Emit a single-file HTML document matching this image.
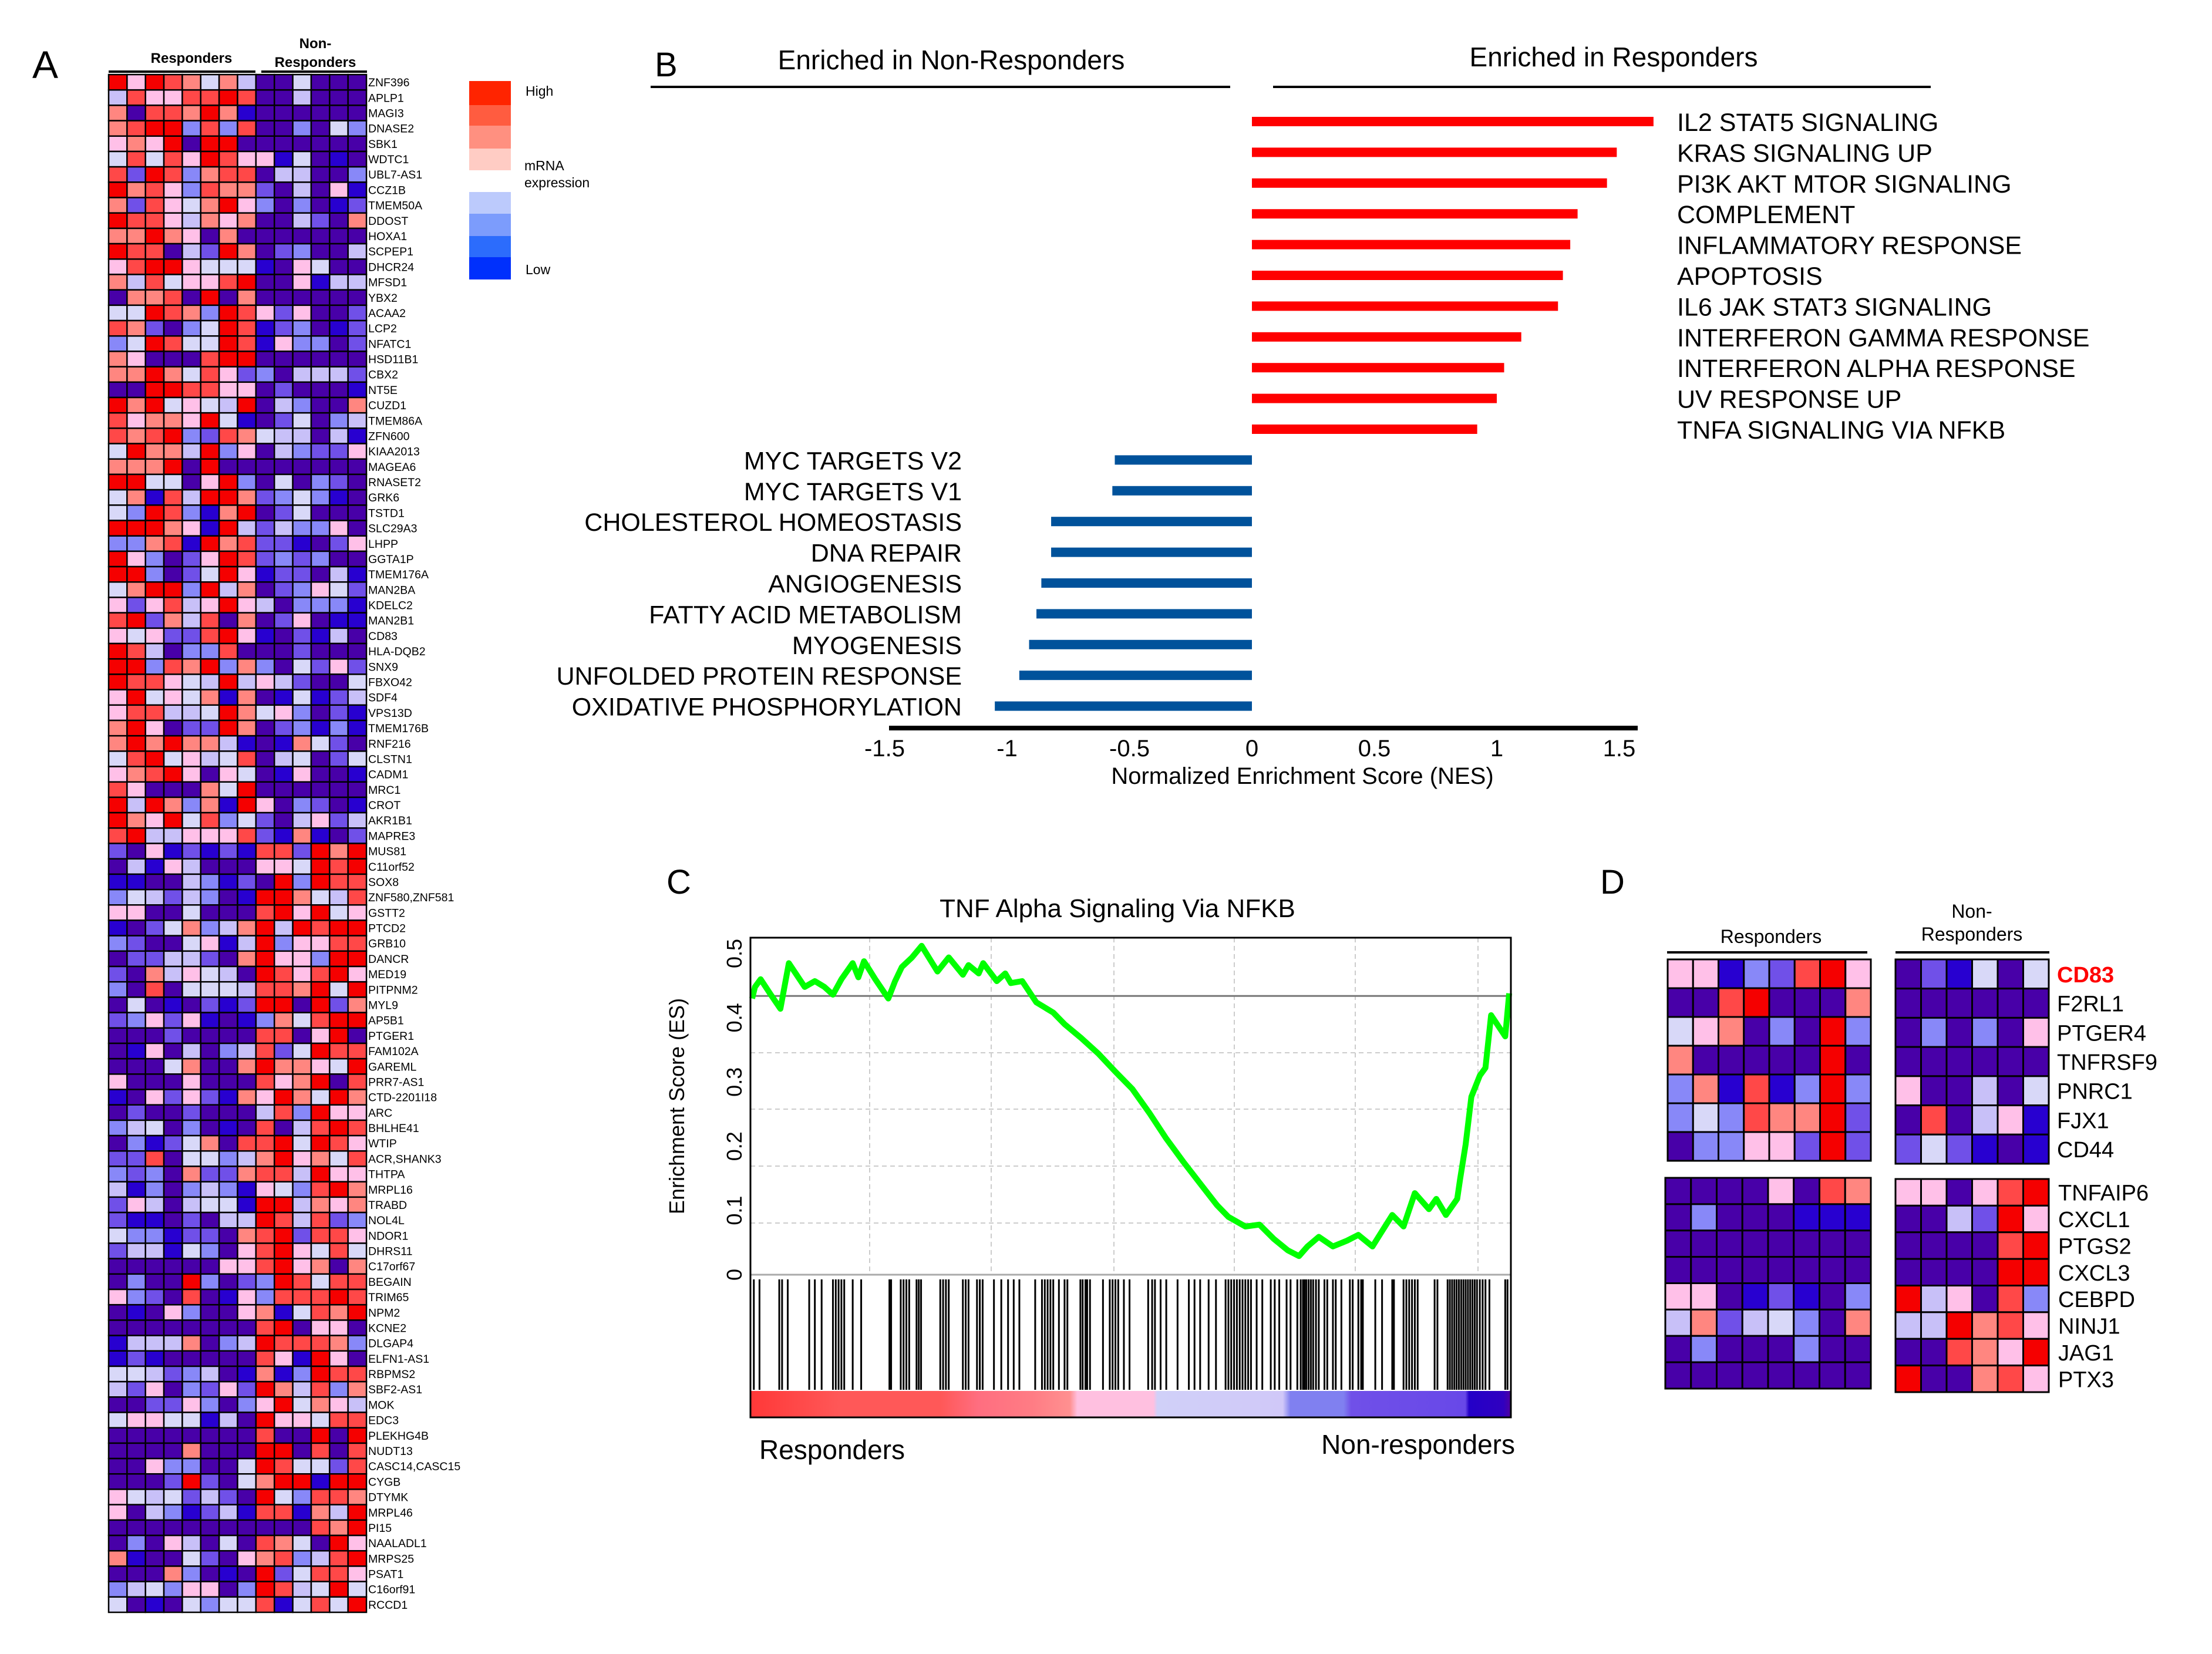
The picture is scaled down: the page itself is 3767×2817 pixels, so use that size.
<!DOCTYPE html>
<html><head><meta charset="utf-8">
<style>
html,body{margin:0;padding:0;background:#fff;}
svg{display:block;font-family:"Liberation Sans",Arial,sans-serif;}
</style></head>
<body>
<svg id="fig" width="3767" height="2817" viewBox="0 0 3767 2817" xmlns="http://www.w3.org/2000/svg">
<rect width="3767" height="2817" fill="#fff"/>
<g>
<text x="55" y="133" font-size="66">A</text>
<text x="326" y="107" font-size="24" font-weight="bold" text-anchor="middle">Responders</text>
<line x1="185" y1="122" x2="435" y2="122" stroke="#000" stroke-width="4"/>
<text x="537" y="82" font-size="24" font-weight="bold" text-anchor="middle">Non-</text>
<text x="537" y="114" font-size="24" font-weight="bold" text-anchor="middle">Responders</text>
<line x1="445" y1="122" x2="625" y2="122" stroke="#000" stroke-width="4"/>
<g>
<rect x="799" y="138" width="71" height="41" fill="#FF2400"/>
<rect x="799" y="179" width="71" height="35" fill="#FF5C40"/>
<rect x="799" y="214" width="71" height="39" fill="#FF9080"/>
<rect x="799" y="253" width="71" height="37" fill="#FFCCC4"/>
<rect x="799" y="327" width="71" height="37" fill="#BCCAFC"/>
<rect x="799" y="364" width="71" height="38" fill="#7C9CFC"/>
<rect x="799" y="402" width="71" height="36" fill="#2C6CFC"/>
<rect x="799" y="438" width="71" height="38" fill="#0030FC"/>
<text x="895" y="163" font-size="23">High</text>
<text x="893" y="290" font-size="23">mRNA</text>
<text x="893" y="319" font-size="23">expression</text>
<text x="895" y="467" font-size="23">Low</text>
</g>
<g id="heatA"></g>
</g>
<g>
<text x="1115" y="130" font-size="58">B</text>
<text x="1620" y="118" font-size="46" text-anchor="middle">Enriched in Non-Responders</text>
<line x1="1108" y1="148" x2="2095" y2="148" stroke="#000" stroke-width="4"/>
<text x="2748" y="113" font-size="46" text-anchor="middle">Enriched in Responders</text>
<line x1="2168" y1="148" x2="3288" y2="148" stroke="#000" stroke-width="4"/>
<g id="nesChart"></g>
</g>
<g>
<text x="1135" y="1522" font-size="58">C</text>
<text x="1903" y="1562" font-size="44" text-anchor="middle">TNF Alpha Signaling Via NFKB</text>
<g id="gsea"></g>
<text x="1293" y="2485" font-size="46">Responders</text>
<text x="2580" y="2476" font-size="46" text-anchor="end">Non-responders</text>
</g>
<g>
<text x="2725" y="1522" font-size="58">D</text>
<text x="3016" y="1606" font-size="32" text-anchor="middle">Responders</text>
<line x1="2839" y1="1622" x2="3180" y2="1622" stroke="#000" stroke-width="4"/>
<text x="3358" y="1563" font-size="32" text-anchor="middle">Non-</text>
<text x="3358" y="1602" font-size="32" text-anchor="middle">Responders</text>
<line x1="3228" y1="1622" x2="3490" y2="1622" stroke="#000" stroke-width="4"/>
<g id="heatD"></g>
</g>
</svg>
<script>
const heatGenes = ["ZNF396","APLP1","MAGI3","DNASE2","SBK1","WDTC1","UBL7-AS1","CCZ1B","TMEM50A","DDOST","HOXA1","SCPEP1","DHCR24","MFSD1","YBX2","ACAA2","LCP2","NFATC1","HSD11B1","CBX2","NT5E","CUZD1","TMEM86A","ZFN600","KIAA2013","MAGEA6","RNASET2","GRK6","TSTD1","SLC29A3","LHPP","GGTA1P","TMEM176A","MAN2BA","KDELC2","MAN2B1","CD83","HLA-DQB2","SNX9","FBXO42","SDF4","VPS13D","TMEM176B","RNF216","CLSTN1","CADM1","MRC1","CROT","AKR1B1","MAPRE3","MUS81","C11orf52","SOX8","ZNF580,ZNF581","GSTT2","PTCD2","GRB10","DANCR","MED19","PITPNM2","MYL9","AP5B1","PTGER1","FAM102A","GAREML","PRR7-AS1","CTD-2201I18","ARC","BHLHE41","WTIP","ACR,SHANK3","THTPA","MRPL16","TRABD","NOL4L","NDOR1","DHRS11","C17orf67","BEGAIN","TRIM65","NPM2","KCNE2","DLGAP4","ELFN1-AS1","RBPMS2","SBF2-AS1","MOK","EDC3","PLEKHG4B","NUDT13","CASC14,CASC15","CYGB","DTYMK","MRPL46","PI15","NAALADL1","MRPS25","PSAT1","C16orf91","RCCD1"];
const heatLevels = [
"96987574115111","48668898114111","71887970111111","78993838113153","67691991111111","58586986605101",
"82983788144113","97863877214160","72865796313102","98864767114217","77976171111111","98814297123114",
"68996555016511","74856689116044","17781917111111","55987398626112","87213598023102","35985598063312",
"76111899111111","77975862314442","11998866121110","97956549143117","86776950125134","87893287544140",
"59774936143226","77791911111111","99551693151321","57084997235301","53983079125111","99976094243361",
"33780978220126","96312698232311","99312596022140","57993947123652","62684696413330","89274817126100",
"65622896012041","98413381112111","99387937315262","98865494642115","69565707105024","68844597563120",
"79612297123030","79797740107521","58956458145125","67896165106110","86111759111111","94973709613210",
"97695835214624","89446668207012","21602020882979","14064111665989","00114302193988","35424310997548",
"66115111896956","01257347949899","32115604936688","12244217966399","21746541986896","31815554887959",
"15101202991927","23626010375899","11121111881691","10614134825988","11157117977659","61116111867918",
"01626207697597","12112111483966","34513101814898","13025718895986","22815534796758","32317227884966",
"40313430653897","26414550994767","20012144984823","53302217892886","24405316896585","11111166896717",
"13119312398588","63218106388898","10163116705879","11111111891661","04447134988873","02011111860961",
"55423410703988","42613262974837","11226313695764","56655041966588","11111111811919","11117111991818",
"11633115985528","11129215799099","65452421953887","61430240880749","11111111111879","13164151875196",
"70115216783489","11173101925886","34536613984595","51015355805859"];
const levelColors = ["#2800D0","#4800A8","#7050E8","#8888F8","#C8C0F8","#D8D8F8","#FFC0E8","#FF8680","#FF4848","#F50000"];

const nesPathways = ["IL2 STAT5 SIGNALING","KRAS SIGNALING UP","PI3K AKT MTOR SIGNALING","COMPLEMENT","INFLAMMATORY RESPONSE","APOPTOSIS","IL6 JAK STAT3 SIGNALING","INTERFERON GAMMA RESPONSE","INTERFERON ALPHA RESPONSE","UV RESPONSE UP","TNFA SIGNALING VIA NFKB","MYC TARGETS V2","MYC TARGETS V1","CHOLESTEROL HOMEOSTASIS","DNA REPAIR","ANGIOGENESIS","FATTY ACID METABOLISM","MYOGENESIS","UNFOLDED PROTEIN RESPONSE","OXIDATIVE PHOSPHORYLATION"];
const nesValues = [1.64,1.49,1.45,1.33,1.30,1.27,1.25,1.10,1.03,1.00,0.92,-0.56,-0.57,-0.82,-0.82,-0.86,-0.88,-0.91,-0.95,-1.05];
const nesTicks = [-1.5,-1,-0.5,0,0.5,1,1.5];
const nesTickLabels = ["-1.5","-1","-0.5","0","0.5","1","1.5"];

const esRanks = [3,8,18,36,53,68,96,114,131,146,161,181,191,201,221,244,256,268,286,303,331,351,376,386,404,412,436,451,461,481,506,536,556,586,616,646,676,706,736,766,796,826,846,876,901,926,951,971,986,1006,1031,1056,1076,1101,1116,1136,1156,1176,1201,1214,1231,1251,1256,1266,1276,1291,1301,1311,1336,1343];
const esValues = [0.43,0.448,0.46,0.436,0.414,0.485,0.448,0.457,0.448,0.436,0.46,0.485,0.463,0.488,0.46,0.43,0.457,0.479,0.494,0.512,0.472,0.494,0.467,0.482,0.469,0.485,0.457,0.469,0.454,0.457,0.424,0.408,0.39,0.368,0.344,0.316,0.289,0.252,0.212,0.176,0.142,0.108,0.09,0.075,0.078,0.056,0.038,0.029,0.044,0.059,0.044,0.053,0.062,0.044,0.065,0.093,0.075,0.127,0.102,0.118,0.093,0.118,0.148,0.203,0.277,0.31,0.322,0.404,0.371,0.438];
const hitRanks = [6,16,51,56,66,104,114,126,146,151,156,161,166,181,196,246,249,266,271,276,281,294,298,302,336,341,346,351,376,381,386,401,406,411,431,444,456,466,476,504,516,521,526,531,536,546,556,561,584,588,593,596,601,624,636,641,646,651,661,671,704,711,716,726,736,756,776,786,796,811,824,841,846,851,856,861,866,871,876,881,886,896,906,921,928,936,949,956,968,974,978,981,984,988,992,996,1001,1006,1016,1021,1031,1036,1046,1061,1066,1076,1081,1084,1106,1118,1136,1139,1156,1161,1166,1171,1176,1181,1211,1216,1234,1238,1242,1246,1250,1254,1258,1262,1266,1270,1274,1278,1282,1286,1291,1296,1301,1308,1336,1340];
const esTicks = [0,0.1,0.2,0.3,0.4,0.5];
const esTickLabels = ["0","0.1","0.2","0.3","0.4","0.5"];
const esRefLine = 0.434;

const dTopGenes = ["CD83","F2RL1","PTGER4","TNFRSF9","PNRC1","FJX1","CD44"];
const dBotGenes = ["TNFAIP6","CXCL1","PTGS2","CXCL3","CEBPD","NINJ1","JAG1","PTX3"];
const dTopResp = ["66032896","11891117","56713193","71111191","37080393","35387792","13366292"];
const dTopNon = ["120515","111111","131316","111111","611415","181460","252010"];
const dBotResp = ["11116187","13111000","11111111","11111111","66102013","47245317","13111311","11111111"];
const dBotNon = ["661689","114296","111189","111199","946183","449786","118769","911786"];

const NS="http://www.w3.org/2000/svg";
function mk(tag,attrs,parent){const e=document.createElementNS(NS,tag);for(const k in attrs)e.setAttribute(k,attrs[k]);parent.appendChild(e);return e;}

(function(){
  const g=document.getElementById('heatA');
  const x0=185,y0=127,cw=31.36,rh=26.19;
  heatLevels.forEach((row,r)=>{
    for(let c=0;c<row.length;c++){
      const cell=mk('rect',{x:x0+c*cw,y:y0+r*rh,width:cw,height:rh,fill:levelColors[+row[c]],stroke:'#000','stroke-width':2.5},g);
      
      
    }
    const t=mk('text',{x:x0+14*cw+3,y:y0+r*rh+rh/2+7,'font-size':19.5},g);
    
    
    t.textContent=heatGenes[r];
  });
})();

(function(){
  const g=document.getElementById('nesChart');
  const zeroX=2132, unit=417, rowY0=207, step=52.4, barH=16;
  const xs=v=>zeroX+v*unit;
  const ys=i=>rowY0+i*step;
  nesValues.forEach((v,i)=>{
    const x=Math.min(xs(0),xs(v)), w=Math.abs(xs(v)-xs(0));
    const b=mk('rect',{x:x,y:ys(i)-barH/2,width:w,height:barH,fill:v>0?'#FF0000':'#00529B'},g);
    
    
    const t=mk('text',{x:v>0?2856:1638,y:ys(i)+16,'font-size':43,'text-anchor':v>0?'start':'end'},g);
    
    
    t.textContent=nesPathways[i];
  });
  const ax=mk('line',{x1:1514,y1:1240,x2:2789,y2:1240,stroke:'#000','stroke-width':8},g);
  
  
  nesTicks.forEach((v,i)=>{
    const t=mk('text',{x:xs(v),y:1288,'font-size':40,'text-anchor':'middle'},g);
    
    
    t.textContent=nesTickLabels[i];
  });
  const tt=mk('text',{x:2218,y:1335,'font-size':40,'text-anchor':'middle'},g);
  
  
  tt.textContent='Normalized Enrichment Score (NES)';
})();

(function(){
  const g=document.getElementById('gsea');
  const L=1278,R=2573,T=1597,Z=2171,CB=2369,B=2414;
  const maxRank=1346;
  const xs=r=>L+r/maxRank*(R-L);
  const ys=v=>Z-v*1094;
  [1481,1688,1897,2102,2308,2517].forEach(x=>{
    const l=mk('line',{x1:x,y1:T,x2:x,y2:Z,stroke:'#ccc','stroke-width':2,'stroke-dasharray':'8,6'},g);
    
    
  });
  [1793,1889,1986,2083].forEach(y=>{
    const l=mk('line',{x1:L,y1:y,x2:R,y2:y,stroke:'#ccc','stroke-width':2,'stroke-dasharray':'8,6'},g);
    
    
  });
  const ref=mk('line',{x1:L,y1:ys(esRefLine),x2:R,y2:ys(esRefLine),stroke:'#777','stroke-width':3},g);
  
  
  const zl=mk('line',{x1:L,y1:Z,x2:R,y2:Z,stroke:'#aaa','stroke-width':3},g);
  
  
  let d='';
  esRanks.forEach((r,i)=>{d+=(i?'L':'M')+xs(r).toFixed(1)+','+ys(esValues[i]).toFixed(1);});
  const p=mk('path',{d:d,fill:'none',stroke:'#00FF00','stroke-width':10,'stroke-linejoin':'round'},g);
  
  
  hitRanks.forEach(r=>{
    const h=mk('line',{x1:xs(r),y1:Z+8,x2:xs(r),y2:CB-2,stroke:'#000','stroke-width':3},g);
    
    
  });
  const defs=mk('defs',{},g);
  const lg=mk('linearGradient',{id:'rankgrad',x1:0,y1:0,x2:1,y2:0},defs);
  [[0,'#FF3838'],[0.12,'#FF5858'],[0.25,'#FF5858'],[0.3,'#FF6E80'],[0.37,'#FF7C84'],[0.42,'#FF9090'],[0.43,'#FFC0E0'],[0.53,'#FFC0E0'],[0.535,'#D0D0F8'],[0.7,'#D0C8F8'],[0.71,'#8080F0'],[0.78,'#8080F0'],[0.79,'#7050E8'],[0.94,'#6848E8'],[0.945,'#2400C8'],[0.99,'#3000C0'],[1,'#5000A0']].forEach(s=>{
    mk('stop',{offset:s[0],'stop-color':s[1]},lg);
  });
  const cb=mk('rect',{x:L,y:CB,width:R-L,height:B-CB,fill:'url(#rankgrad)'},g);
  
  
  const fr=mk('rect',{x:L,y:T,width:R-L,height:B-T,fill:'none',stroke:'#000','stroke-width':3},g);
  
  
  esTicks.forEach((v,i)=>{
    const t=mk('text',{x:0,y:0,'font-size':36,'text-anchor':'middle',transform:`translate(1263,${ys(v)}) rotate(-90)`},g);
    
    
    t.textContent=esTickLabels[i];
  });
  const yt=mk('text',{x:0,y:0,'font-size':36,'text-anchor':'middle',transform:'translate(1165,1884) rotate(-90)'},g);
  
  
  yt.textContent='Enrichment Score (ES)';
})();

(function(){
  const g=document.getElementById('heatD');
  function block(rows,x0,x1,y0,y1,name){
    const nr=rows.length,nc=rows[0].length,cw=(x1-x0)/nc,rh=(y1-y0)/nr;
    rows.forEach((row,r)=>{for(let c=0;c<nc;c++){
      const cell=mk('rect',{x:x0+c*cw,y:y0+r*rh,width:cw,height:rh,fill:levelColors[+row[c]],stroke:'#000','stroke-width':3},g);
      
      
    }});
  }
  block(dTopResp,2840,3186,1634,1977,'d-responder-cell');
  block(dTopNon,3228,3489,1634,1982,'d-non-responder-cell');
  block(dBotResp,2836,3186,2006,2365,'d-responder-cell');
  block(dBotNon,3228,3489,2008,2371,'d-non-responder-cell');
  const th=(1982-1634)/dTopGenes.length;
  dTopGenes.forEach((n,i)=>{
    const t=mk('text',{x:3503,y:1634+i*th+th/2+14,'font-size':38,fill:i===0?'#FF0000':'#000','font-weight':i===0?'bold':'normal'},g);
    
    
    t.textContent=n;
  });
  const bh=(2371-2008)/dBotGenes.length;
  dBotGenes.forEach((n,i)=>{
    const t=mk('text',{x:3505,y:2008+i*bh+bh/2+14,'font-size':38},g);
    
    
    t.textContent=n;
  });
})();
</script>
</body></html>
